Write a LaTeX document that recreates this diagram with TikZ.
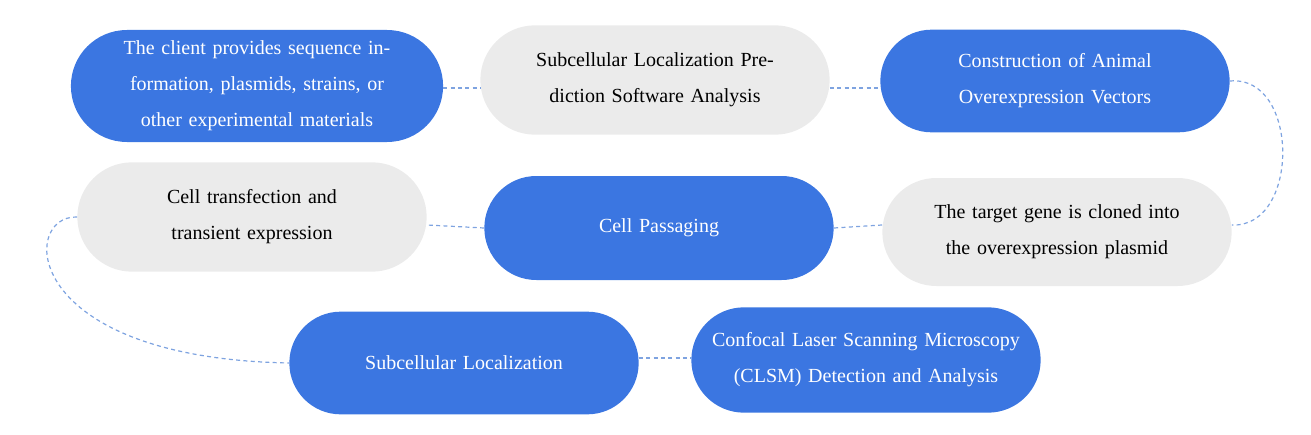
\documentclass[tikz,border=0pt]{standalone}
\usepackage{fontspec}
\setmainfont{Liberation Serif}
\usetikzlibrary{shapes.misc}
\definecolor{bl}{HTML}{3B76E1}
\definecolor{gr}{HTML}{EBEBEB}
\definecolor{ln}{HTML}{7EA3E0}
\begin{document}
\begin{tikzpicture}[x=0.75pt,y=-0.75pt,
  box/.style={rounded rectangle,minimum width=262pt,inner sep=0pt,align=center,font=\fontsize{15}{27}\selectfont,text width=245pt},
  bbox/.style={box,fill=bl,text=white},
  gbox/.style={box,fill=gr,text=black},
  con/.style={ln,dashed,line width=0.9pt,dash pattern=on 3pt off 2.5pt}]
\useasboundingbox (0,0) rectangle (1311,435);
\node[bbox,minimum height=84pt] (n1) at (257,86) {The client provides sequence information, plasmids, strains, or other experimental materials};
\node[gbox,minimum height=82pt] (n2) at (655,80) {Subcellular Localization Prediction Software Analysis};
\node[bbox,minimum height=77pt] (n3) at (1055,81) {Construction of Animal Overexpression Vectors};
\node[gbox,minimum height=81pt] (n4) at (1057,232) {The target gene is cloned into the overexpression plasmid};
\node[bbox,minimum height=78pt] (n5) at (659,228) {Cell Passaging};
\node[gbox,minimum height=82pt] (n6) at (252,217) {Cell transfection and transient expression};
\node[bbox,minimum height=77pt] (n7) at (464,363) {Subcellular Localization};
\node[bbox,minimum height=79pt] (n8) at (866,360) {Confocal Laser Scanning Microscopy (CLSM) Detection and Analysis};
\draw[con] (n1.east |- 0,88) -- (n2.west |- 0,88);
\draw[con] (n2.east |- 0,88) -- (n3.west |- 0,88);
\draw[con] (n3.east) .. controls (1300,75) and (1300,228) .. (n4.east |- 0,225);
\draw[con] (n4.west |- 0,225) -- (n5.west -| n5.east);
\draw[con] (n5.west) -- (n6.east |- 0,225);
\draw[con] (n6.west) .. controls (20,215) and (20,358) .. (n7.west);
\draw[con] (n7.east |- 0,358) -- (n8.west |- 0,358);
\end{tikzpicture}
\end{document}
